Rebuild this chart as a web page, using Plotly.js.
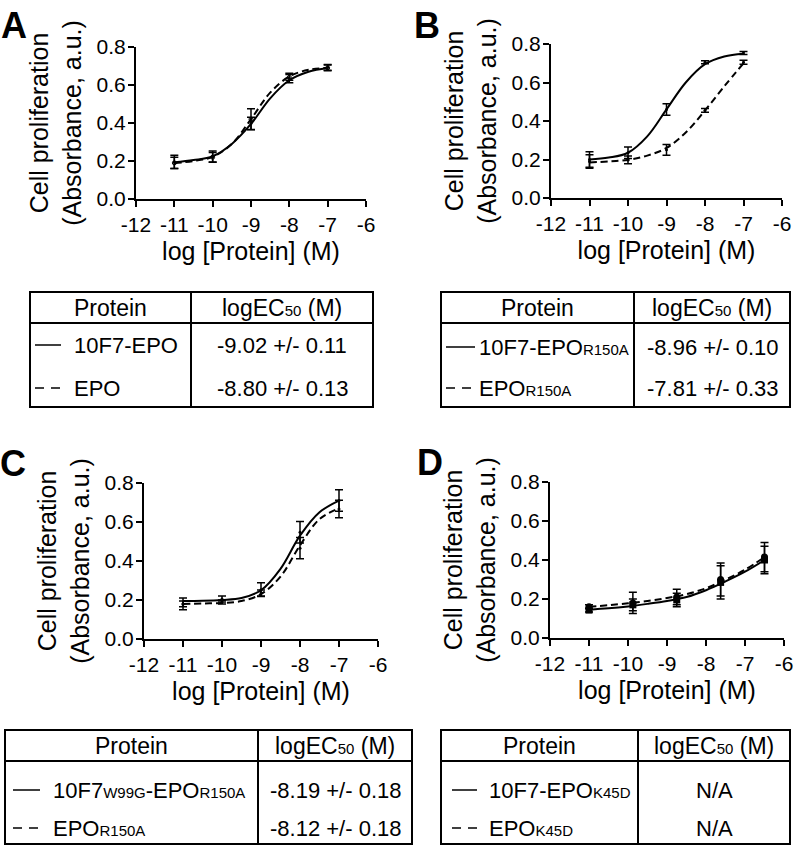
<!DOCTYPE html>
<html>
<head>
<meta charset="utf-8">
<script src="https://cdn.plot.ly/plotly-3.0.1.min.js"></script>
<style>body{margin:0;background:#fff}#chart{width:799px;height:845px}</style>
</head>
<body>
<div id="chart"></div>
<script>
// log concentrations of the measured points
var doseX = [-11, -10, -9, -8, -7];
var doseXD = [-11, -9.875, -8.75, -7.625, -6.5];
var fitX = [-11, -10.5, -10, -9.5, -9, -8.5, -8, -7.5, -7];
var fitXD = [-11, -10.5, -10, -9.5, -9, -8.5, -8, -7.5, -7, -6.5];

// Panel A: 10F7-EPO (solid) / EPO (dashed)
var aSolidMean = [0.195, 0.223, 0.398, 0.637, 0.693];
var aSolidErr = [0.035, 0.03, 0.032, 0.025, 0.015];
var aDashMean = [0.19, 0.22, 0.42, 0.64, 0.69];
var aDashErr = [0.03, 0.025, 0.055, 0.015, 0.015];
var aSolidFit = [0.193, 0.205, 0.225, 0.29, 0.395, 0.53, 0.625, 0.67, 0.69];
var aDashFit = [0.188, 0.2, 0.222, 0.29, 0.42, 0.56, 0.645, 0.68, 0.69];

// Panel B: 10F7-EPO R150A (solid) / EPO R150A (dashed)
var bSolidMean = [0.2, 0.235, 0.46, 0.705, 0.753];
var bSolidErr = [0.04, 0.03, 0.03, 0.008, 0.008];
var bDashMean = [0.19, 0.198, 0.25, 0.455, 0.705];
var bDashErr = [0.035, 0.02, 0.028, 0.01, 0.01];
var bSolidFit = [0.2, 0.21, 0.235, 0.32, 0.46, 0.6, 0.695, 0.735, 0.75];
var bDashFit = [0.185, 0.19, 0.198, 0.22, 0.26, 0.34, 0.455, 0.58, 0.7];

// Panel C: 10F7 W99G-EPO R150A (solid) / EPO R150A (dashed)
var cSolidMean = [0.18, 0.205, 0.253, 0.547, 0.71];
var cSolidErr = [0.03, 0.015, 0.035, 0.055, 0.055];
var cDashMean = [0.18, 0.19, 0.236, 0.466, 0.667];
var cDashErr = [0.015, 0.01, 0.015, 0.055, 0.045];
var cSolidFit = [0.195, 0.196, 0.2, 0.21, 0.25, 0.36, 0.53, 0.65, 0.71];
var cDashFit = [0.18, 0.182, 0.185, 0.195, 0.23, 0.32, 0.48, 0.615, 0.67];

// Panel D: 10F7-EPO K45D (solid, squares) / EPO K45D (dashed, circles)
var dSolidMean = [0.143, 0.17, 0.195, 0.285, 0.4];
var dSolidErr = [0.01, 0.03, 0.035, 0.085, 0.07];
var dDashMean = [0.16, 0.18, 0.21, 0.3, 0.415];
var dDashErr = [0.01, 0.055, 0.04, 0.085, 0.075];
var dSolidFit = [0.145, 0.152, 0.162, 0.175, 0.19, 0.21, 0.245, 0.29, 0.34, 0.4];
var dDashFit = [0.16, 0.168, 0.178, 0.19, 0.205, 0.225, 0.255, 0.3, 0.35, 0.415];

// tick labels
var xTickVals = [-12, -11, -10, -9, -8, -7, -6];
var xTickText = ["-12", "-11", "-10", "-9", "-8", "-7", "-6"];
var yTickVals = [0, 0.2, 0.4, 0.6, 0.8];
var yTickText = ["0.0", "0.2", "0.4", "0.6", "0.8"];

// tables
var sub = function(s) { return '<span style="font-size:15px">' + s + '</span>'; };
var tableA = ["10F7-EPO", "EPO"];
var tableAEc = ["-9.02 +/- 0.11", "-8.80 +/- 0.13"];
var tableB = ["10F7-EPO" + sub("R150A"), "EPO" + sub("R150A")];
var tableBEc = ["-8.96 +/- 0.10", "-7.81 +/- 0.33"];
var tableC = ["10F7" + sub("W99G") + "-EPO" + sub("R150A"), "EPO" + sub("R150A")];
var tableCEc = ["-8.19 +/- 0.18", "-8.12 +/- 0.18"];
var tableD = ["10F7-EPO" + sub("K45D"), "EPO" + sub("K45D")];
var tableDEc = ["N/A", "N/A"];

var W = 799, H = 845;
var FONT = "Liberation Sans, Arial, sans-serif";
function px(x) { return x / W; }
function py(y) { return 1 - y / H; }

var DASH = "7px,4px";

function curve(x, y, ax, dashed) {
    return {x: x, y: y, xaxis: "x" + ax, yaxis: "y" + ax, mode: "lines",
        line: {color: "black", width: 2, shape: "spline", smoothing: 1, dash: dashed ? DASH : "solid"},
        showlegend: false, hoverinfo: "skip"};
}
function points(x, y, err, ax, sym, size) {
    return {x: x, y: y, xaxis: "x" + ax, yaxis: "y" + ax, mode: "markers",
        marker: {color: "black", size: size, symbol: sym},
        error_y: {type: "data", array: err, visible: true, color: "black", thickness: 1.5, width: 4},
        showlegend: false};
}

var data = [
    curve(fitX, aSolidFit, "", false), curve(fitX, aDashFit, "", true),
    points(doseX, aSolidMean, aSolidErr, "", "circle", 3), points(doseX, aDashMean, aDashErr, "", "circle-open", 4),
    curve(fitX, bSolidFit, "2", false), curve(fitX, bDashFit, "2", true),
    points(doseX, bSolidMean, bSolidErr, "2", "circle", 3), points(doseX, bDashMean, bDashErr, "2", "circle", 3),
    curve(fitX, cSolidFit, "3", false), curve(fitX, cDashFit, "3", true),
    points(doseX, cSolidMean, cSolidErr, "3", "circle", 3), points(doseX, cDashMean, cDashErr, "3", "circle", 3),
    curve(fitXD, dSolidFit, "4", false), curve(fitXD, dDashFit, "4", true),
    points(doseXD, dSolidMean, dSolidErr, "4", "square", 7), points(doseXD, dDashMean, dDashErr, "4", "circle", 7)
];

function xAxis(domain, anchor) {
    return {domain: domain, anchor: anchor, range: [-12, -6], tickvals: xTickVals, ticktext: xTickText,
        ticks: "outside", ticklen: 6, tickwidth: 2, tickcolor: "black", showline: true, linewidth: 2,
        linecolor: "black", showgrid: false, zeroline: false, tickfont: {size: 21, color: "black"},
        title: {text: "log [Protein] (M)", font: {size: 25, color: "black"}, standoff: 7}};
}
function yAxis(domain, anchor) {
    return {domain: domain, anchor: anchor, range: [0, 0.8], tickvals: yTickVals, ticktext: yTickText,
        ticks: "outside", ticklen: 6, tickwidth: 2, tickcolor: "black", showline: true, linewidth: 2,
        linecolor: "black", showgrid: false, zeroline: false, tickfont: {size: 21, color: "black"},
        ticklabelstandoff: -2,
        title: {text: "Cell proliferation<br>(Absorbance, a.u.)", font: {size: 25, color: "black"}, standoff: 8}};
}

var layout = {
    width: W, height: H, margin: {l: 0, r: 0, t: 0, b: 0},
    paper_bgcolor: "white", plot_bgcolor: "white",
    font: {family: FONT, color: "black"},
    xaxis: xAxis([px(136), px(366)], "y"), yaxis: yAxis([py(199), py(47)], "x"),
    xaxis2: xAxis([px(551), px(782)], "y2"), yaxis2: yAxis([py(198), py(44)], "x2"),
    xaxis3: xAxis([px(144), px(378)], "y3"), yaxis3: yAxis([py(639), py(483)], "x3"),
    xaxis4: xAxis([px(550), px(784)], "y4"), yaxis4: yAxis([py(638), py(482)], "x4"),
    shapes: [], annotations: []
};

function text(x, y, s, anchor, size, bold) {
    layout.annotations.push({xref: "paper", yref: "paper", x: px(x), y: py(y), text: bold ? "<b>" + s + "</b>" : s,
        showarrow: false, xanchor: anchor, yanchor: "middle", font: {size: size, color: "black"}});
}
function line(x0, y0, x1, y1, w, dash) {
    layout.shapes.push({type: "line", xref: "paper", yref: "paper", x0: px(x0), y0: py(y0), x1: px(x1), y1: py(y1),
        line: {color: "black", width: w, dash: dash || "solid"}});
}

// panel letters
text(14, 25, "A", "center", 36, true);
text(427, 25, "B", "center", 36, true);
text(13, 463, "C", "center", 36, true);
text(430, 462, "D", "center", 36, true);

// table: box, header line, column divider, texts
function table(x0, x1, xd, y0, yh, y1, names, ecs, sx0, sx1, tx, rows) {
    layout.shapes.push({type: "rect", xref: "paper", yref: "paper", x0: px(x0), x1: px(x1), y0: py(y1), y1: py(y0),
        line: {color: "black", width: 2}});
    line(x0, yh, x1, yh, 2);
    line(xd, y0, xd, y1, 2);
    text((x0 + xd) / 2, (y0 + yh) / 2, "Protein", "center", 23);
    text((xd + x1) / 2, (y0 + yh) / 2, "logEC" + sub("50") + " (M)", "center", 23);
    for (var i = 0; i < names.length; i++) {
        line(sx0, rows[i], sx1, rows[i], 1.5, i === 1 ? "9px,7px" : "solid");
        text(tx, rows[i], names[i], "left", 22);
        text((xd + x1) / 2, rows[i], ecs[i], "center", 22);
    }
}
table(30, 373, 191, 292, 323, 407, tableA, tableAEc, 35, 61, 72, [345, 388]);
table(441, 790, 634, 292, 323, 407, tableB, tableBEc, 446, 475, 477, [347, 388]);
table(5, 412, 258, 730, 761, 844, tableC, tableCEc, 13, 40, 51, [790, 828]);
table(441, 790, 638, 730, 761, 844, tableD, tableDEc, 452, 477, 487, [790, 828]);

Plotly.newPlot("chart", data, layout, {staticPlot: true});
</script>
</body>
</html>
